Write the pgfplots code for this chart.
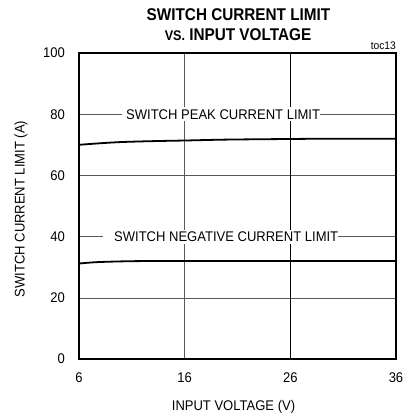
\documentclass[border=0pt]{standalone}
\usepackage{fontspec}
\setmainfont{Liberation Sans}[FakeStretch=0.93]
\newfontfamily\titlefont{Liberation Sans}[FakeStretch=0.9]
\usepackage{pgfplots}
\pgfplotsset{compat=1.18}
\usetikzlibrary{calc}
\begin{document}
\begin{tikzpicture}
\path[use as bounding box] (-79pt,-59pt) rectangle (323pt,359pt);
\begin{axis}[
  scale only axis,
  width=317pt, height=306pt,
  xmin=6, xmax=36, ymin=0, ymax=100,
  xtick={6,16,26,36}, ytick={0,20,40,60,80,100},
  major tick length=0pt,
  grid=major,
  major grid style={gray!70!black, line width=0.6pt},
  axis line style={line width=2.2pt},
  clip=false,
  /pgf/number format/assume math mode=true,
  tick label style={font=\fontsize{14}{16}\selectfont, inner sep=0pt},
  xticklabel style={anchor=base, yshift=-23pt},
  yticklabel style={anchor=east, xshift=-14pt},
]
\draw[black, line width=0.6pt] (axis cs:26,0) -- (axis cs:26,100);
\addplot[black, line width=1.8pt, smooth] coordinates {
 (6,70.0) (8,70.5) (10,70.9) (13,71.2) (16,71.4) (20,71.7) (26,71.9) (30,72.0) (36,72.0)};
\addplot[black, line width=1.8pt, smooth] coordinates {
 (6,31.2) (7,31.5) (8,31.7) (10,31.9) (12,32.0) (16,32.0) (26,32.0) (36,32.0)};
\node[anchor=west, fill=white, inner xsep=0pt, inner ysep=2pt, font=\fontsize{14}{16}\selectfont]
  at (axis cs:10.04,80) {\hspace{4.3pt}SWITCH PEAK CURRENT LIMIT\hspace{2.7pt}};
\node[anchor=west, fill=white, inner xsep=0pt, inner ysep=2pt, font=\fontsize{14}{16}\selectfont]
  at (axis cs:8.27,40) {\hspace{11pt}SWITCH NEGATIVE CURRENT LIMIT\hspace{6pt}};
\node[font=\titlefont\bfseries\fontsize{17}{19}\selectfont, inner sep=0pt]
  at ($(rel axis cs:0.5,1)+(1pt,38.5pt)$) {SWITCH CURRENT LIMIT};
\node[font=\titlefont\bfseries\fontsize{17}{19}\selectfont, inner sep=0pt]
  at ($(rel axis cs:0.5,1)+(0.5pt,18pt)$) {{\fontsize{14}{16}\selectfont VS.} INPUT VOLTAGE};
\node[anchor=base east, font=\fontsize{11}{12}\selectfont, inner sep=0pt]
  at ($(rel axis cs:1,1)+(0pt,3pt)$) {toc13};
\node[anchor=base, font=\fontsize{14}{16}\selectfont, inner sep=0pt]
  at ($(rel axis cs:0.5,0)+(-4pt,-51pt)$) {INPUT VOLTAGE (V)};
\node[rotate=90, font=\fontsize{14}{16}\selectfont, inner sep=0pt]
  at ($(rel axis cs:0,0.5)+(-58pt,-3pt)$) {SWITCH CURRENT LIMIT (A)};
\end{axis}
\end{tikzpicture}
\end{document}
